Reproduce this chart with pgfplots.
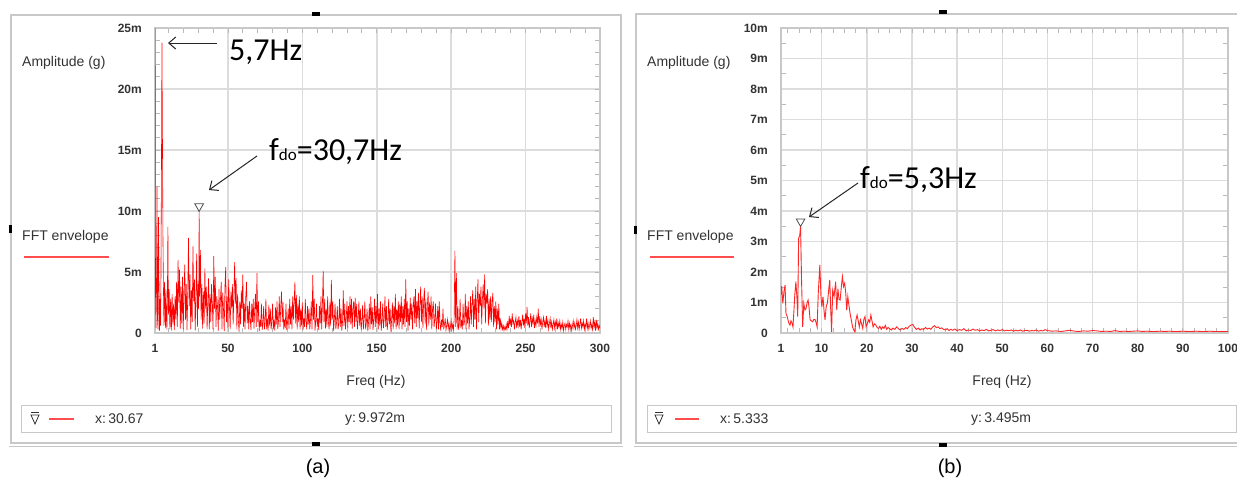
\documentclass[border=0pt]{standalone}
\usepackage{fontspec}
\setmainfont{Liberation Sans}
\newfontfamily\calib{Carlito}
\usepackage{pgfplots}
\usepackage{pgfplotstable}
\usetikzlibrary{arrows.meta}
\pgfplotsset{compat=1.18}

\definecolor{gridc}{HTML}{DCDCDC}
\definecolor{framec}{HTML}{C8C8C8}
\definecolor{txt}{HTML}{333333}
\definecolor{lred}{HTML}{FF4D4D}

% FFT envelope, panel (a): freq [Hz], amplitude [mg]
\pgfplotstableread{
f a
1.100 25.0
1.333 3.2
1.667 0.4
2.000 3.5
2.333 12.0
2.667 1.2
3.000 0.3
3.333 9.5
3.667 4.0
4.000 0.2
4.333 2.8
4.667 0.6
5.000 4.5
5.333 13.4
5.667 23.8
6.000 16.0
6.333 8.0
6.667 3.8
7.000 0.6
7.333 4.2
7.667 2.5
8.000 0.4
8.333 3.6
8.667 1.2
9.000 0.3
9.333 3.0
9.667 8.7
10.000 1.5
10.5 3.6
11 0.3
11.5 2.8
12 0.2
12.5 3.2
13 0.7
13.5 2.4
14 0.25
14.5 3.0
15 1.1
15.5 4.2
16 0.5
16.5 6.0
17 2.5
17.5 5.2
18 0.35
18.5 3.8
19 0.8
19.5 4.6
20 0.3
20.5 3.4
21 5.6
21.5 1.1
22 4.0
22.5 0.25
23 3.0
23.5 7.8
24 2.2
24.5 4.8
25 0.3
25.5 3.5
26 0.9
26.5 7.1
27 2.6
27.5 4.4
28 0.2
28.5 3.0
29 6.5
29.5 0.5
30 4.0
30.333 2.0
30.667 9.972
31 3.0
31.5 6.8
32 1.1
32.5 4.0
33 0.35
33.5 3.4
34 0.8
34.5 5.3
35 2.0
35.5 3.8
36 0.3
36.5 2.6
37 4.5
37.5 0.3
38 3.2
38.5 0.9
39 4.0
39.5 2.4
40 0.3
40.5 6.3
41 2.0
41.5 4.6
42 0.5
42.5 3.0
43 2.2
43.5 0.2
44 3.6
44.5 1.1
45 2.8
45.5 4.2
46 0.3
46.5 3.3
47 2.0
47.5 0.15
48 3.8
48.5 5.4
49 0.9
49.5 3.0
50 0.4
50.5 4.4
51 2.2
51.5 0.3
52 3.4
52.5 2.0
53 4.0
53.5 0.7
54 3.0
54.5 5.8
55 2.4
55.5 4.5
56 0.3
56.5 3.2
57 1.1
57.5 0.1
58 2.6
58.5 0.7
59 3.5
59.5 2.0
60 4.8
60.5 0.5
61 2.4
61.5 0.3
62 3.0
62.5 4.2
63 0.8
63.5 2.2
64 0.3
64.5 2.6
65 1.1
65.5 0.25
66 2.4
66.5 0.9
67 2.8
67.5 0.35
68 2.0
68.5 3.2
69 0.5
69.5 4.9
70 0.9
70.5 2.6
71 0.15
71.5 1.1
72 0.5
72.5 2.4
73 0.25
73.5 0.8
74 2.2
74.5 0.3
75 0.9
75.5 2.8
76 0.3
76.5 1.2
77 0.2
77.5 2.3
78 0.6
78.5 2.0
79 0.3
79.5 0.9
80 2.4
80.5 0.3
81 1.1
81.5 0.2
82 2.1
82.5 0.7
83 2.6
83.5 0.35
84 1.0
84.5 3.0
85 0.5
85.5 2.2
86 3.4
86.5 0.9
87 2.5
87.5 0.3
88 1.1
88.5 0.4
89 2.4
89.5 0.25
90 0.8
90.5 2.0
91 0.35
91.5 2.8
92 0.7
92.5 2.2
93 0.3
93.5 3.0
94 1.1
94.5 2.6
95 4.2
95.5 0.8
96 3.1
96.5 0.3
97 2.4
97.5 0.9
98 3.0
98.5 0.3
99 2.0
99.5 0.6
100 2.5
100.5 0.25
101 1.2
101.5 0.5
102 2.8
102.5 0.9
103 0.3
103.5 2.2
104 0.7
104.5 2.0
105 0.3
105.5 1.1
106 2.6
106.5 0.3
107 4.75
107.5 1.1
108 2.8
108.5 0.2
109 0.9
109.5 2.4
110 0.5
110.5 1.2
111 0.25
111.5 2.2
112 0.8
112.5 3.0
113 0.3
113.5 2.4
114 5.1
114.5 0.9
115 2.8
115.5 0.35
116 2.0
116.5 0.5
117 3.0
117.5 0.9
118 0.3
118.5 2.5
119 0.6
119.5 4.35
120 1.1
120.5 2.6
121 0.15
121.5 1.1
122 2.4
122.5 0.3
123 0.9
123.5 2.2
124 0.3
124.5 0.8
125 2.8
125.5 0.5
126 2.0
126.5 0.2
127 0.9
127.5 3.5
128 0.6
128.5 2.4
129 0.3
129.5 1.2
130 2.6
130.5 0.4
131 2.2
131.5 0.9
132 3.0
132.5 0.7
133 2.8
133.5 0.35
134 2.0
134.5 2.6
135 0.5
135.5 2.9
136 0.9
136.5 2.4
137 0.3
137.5 1.1
138 2.6
138.5 0.6
139 2.0
139.5 0.25
140 0.9
140.5 2.3
141 0.3
141.5 1.1
142 2.6
142.5 0.3
143 0.8
143.5 2.0
144 0.15
144.5 0.9
145 2.4
145.5 0.3
146 3.0
146.5 0.7
147 2.1
147.5 0.25
148 1.1
148.5 2.8
149 0.5
149.5 2.2
150 0.8
150.5 3.2
151 0.3
151.5 2.0
152 0.6
152.5 2.6
153 0.2
153.5 1.0
154 2.4
154.5 0.4
155 1.2
155.5 3.0
156 0.5
156.5 2.2
157 0.25
157.5 0.9
158 2.8
158.5 0.7
159 2.0
159.5 0.1
160 1.1
160.5 2.5
161 0.3
161.5 2.2
162 0.8
162.5 3.2
163 0.3
163.5 2.0
164 0.6
164.5 2.6
165 0.3
165.5 2.4
166 0.9
166.5 3.0
167 0.3
167.5 2.2
168 0.7
168.5 2.8
169 0.5
169.5 4.4
170 0.9
170.5 2.6
171 0.2
171.5 2.0
172 0.6
172.5 2.9
173 1.1
173.5 2.4
174 0.3
174.5 2.2
175 3.0
175.5 0.8
176 3.6
176.5 0.5
177 2.6
177.5 1.2
178 3.3
178.5 0.35
179 2.4
179.5 3.8
180 0.9
180.5 3.0
181 0.4
181.5 2.6
182 3.7
182.5 0.7
183 2.8
183.5 0.25
184 2.2
184.5 3.4
185 0.6
185.5 2.5
186 1.1
186.5 3.0
187 0.3
187.5 2.0
188 2.6
188.5 0.5
189 1.1
189.5 2.4
190 0.3
190.5 0.9
191 2.2
191.5 0.3
192 2.6
192.5 0.8
193 0.2
193.5 1.1
194 0.5
194.5 2.0
195 0.3
195.5 0.7
196 1.2
196.5 0.25
197 0.6
197.5 1.1
198 0.35
198.5 0.8
199 0.15
199.5 0.5
200 1.0
200.5 0.3
201 0.7
201.5 0.25
202 1.1
202.5 6.75
203 0.5
203.5 4.9
204 0.3
204.5 2.2
205 0.25
205.5 0.8
206 2.8
206.5 0.4
207 1.1
207.5 0.3
208 2.4
208.5 0.6
209 1.0
209.5 3.2
210 0.3
210.5 2.2
211 0.8
211.5 2.6
212 0.3
212.5 1.2
213 3.0
213.5 0.7
214 2.4
214.5 3.5
215 0.5
215.5 2.8
216 1.1
216.5 3.8
217 0.3
217.5 2.6
218 4.4
218.5 0.9
219 3.2
219.5 2.2
220 3.8
220.5 0.7
221 2.8
221.5 4.0
222 2.0
222.5 4.8
223 0.8
223.5 3.2
224 2.4
224.5 3.6
225 0.6
225.5 2.8
226 1.1
226.5 3.0
227 0.9
227.5 2.5
228 3.3
228.5 0.5
229 2.2
229.5 0.9
230 2.6
230.5 0.3
231 2.0
231.5 0.7
232 2.4
232.5 0.3
233 1.2
233.5 0.4
234 0.8
234.5 0.3
235 0.6
235.5 0.2
236 0.5
236.5 0.3
237 0.7
237.5 0.2
238 1.0
238.5 0.4
239 1.4
239.5 0.6
240 1.2
240.5 0.5
241 1.6
241.5 0.8
242 1.0
242.5 0.3
243 0.9
243.5 1.3
244 0.4
244.5 1.0
245 0.6
245.5 1.4
246 0.5
246.5 1.1
247 0.3
247.5 0.9
248 1.5
248.5 0.6
249 1.2
249.5 0.4
250 1.6
250.5 0.8
251 2.15
251.5 0.6
252 1.3
252.5 0.4
253 1.0
253.5 1.6
254 0.5
254.5 1.2
255 0.8
255.5 1.5
256 0.4
256.5 1.0
257 0.6
257.5 1.3
258 0.8
258.5 2.0
259 0.5
259.5 1.4
260 0.7
260.5 1.1
261 0.3
261.5 0.9
262 1.3
262.5 0.5
263 1.0
263.5 0.4
264 1.4
264.5 0.6
265 1.0
265.5 0.3
266 0.8
266.5 1.2
267 0.4
267.5 0.9
268 0.3
268.5 0.7
269 1.1
269.5 0.4
270 0.9
270.5 0.5
271 1.2
271.5 0.3
272 0.8
272.5 0.5
273 1.0
273.5 0.3
274 0.7
274.5 0.4
275 0.9
275.5 0.2
276 0.6
276.5 0.8
277 0.3
277.5 0.7
278 0.5
278.5 1.0
279 0.3
279.5 0.8
280 0.4
280.5 0.7
281 0.2
281.5 0.6
282 1.0
282.5 0.4
283 0.8
283.5 0.3
284 0.6
284.5 1.1
285 0.4
285.5 0.9
286 0.3
286.5 0.7
287 1.2
287.5 0.4
288 0.8
288.5 0.5
289 1.0
289.5 0.3
290 0.7
290.5 0.5
291 1.2
291.5 0.4
292 0.8
292.5 0.3
293 0.6
293.5 1.0
294 0.4
294.5 0.7
295 0.3
295.5 1.3
296 0.5
296.5 0.9
297 0.2
297.5 1.1
298 0.4
298.5 0.8
299 0.3
299.5 0.6
300 0.4
}\dataA

% FFT envelope, panel (b)
\pgfplotstableread{
f a
1.0 1.25
1.15 1.54
1.4 0.97
1.65 1.35
1.9 1.57
2.1 0.64
2.35 0.55
2.6 0.40
2.8 0.30
3.0 0.26
3.2 0.40
3.4 0.35
3.65 0.20
3.85 0.70
4.05 1.25
4.3 1.68
4.55 1.10
4.7 0.54
4.9 3.10
5.15 3.20
5.333 3.495
5.55 1.74
5.8 0.20
6.05 0.97
6.3 0.75
6.55 0.81
6.8 1.00
7.0 1.08
7.2 0.86
7.45 0.43
7.7 0.40
8.0 0.37
8.3 0.45
8.6 0.43
8.85 0.30
9.0 0.20
9.25 1.30
9.6 2.23
9.85 1.20
10.05 0.86
10.3 1.19
10.55 0.70
10.75 0.43
11.0 0.86
11.3 1.00
11.55 1.40
11.8 1.74
12.0 0.80
12.2 0.04
12.45 1.41
12.75 1.20
13.1 1.68
13.35 0.75
13.6 1.45
13.85 1.10
14.1 1.08
14.35 1.50
14.6 1.85
14.85 1.52
15.1 1.63
15.35 1.30
15.55 0.75
15.8 1.19
16.05 0.90
16.3 0.64
16.6 0.40
16.85 0.20
17.1 0.10
17.35 0.04
17.6 0.43
17.85 0.59
18.1 0.40
18.35 0.20
18.6 0.43
18.85 0.30
19.1 0.15
19.35 0.45
19.6 0.54
19.85 0.20
20.1 0.30
20.4 0.43
20.65 0.35
20.9 0.59
21.15 0.40
21.4 0.20
21.7 0.30
22.0 0.26
22.3 0.18
22.6 0.15
22.9 0.22
23.2 0.12
23.5 0.20
23.8 0.15
24.1 0.25
24.4 0.12
24.7 0.18
25.0 0.15
25.4 0.10
25.8 0.16
26.2 0.12
26.6 0.20
27.0 0.14
27.4 0.10
27.8 0.15
28.2 0.12
28.6 0.18
29.0 0.14
29.4 0.22
29.8 0.26
30.2 0.28
30.6 0.18
31.0 0.12
31.4 0.16
31.8 0.10
32.2 0.14
32.6 0.12
33.0 0.18
33.4 0.13
33.8 0.16
34.2 0.12
34.6 0.20
35.0 0.24
35.4 0.18
35.8 0.20
36.2 0.14
36.6 0.17
37.0 0.12
37.4 0.10
37.8 0.14
38.2 0.08
38.6 0.12
39.0 0.09
39.5 0.13
40 0.08
40.5 0.11
41 0.09
41.5 0.14
42 0.07
42.5 0.10
43 0.08
43.5 0.13
44 0.09
44.5 0.11
45 0.07
45.5 0.10
46 0.08
46.5 0.12
47 0.07
47.5 0.09
48 0.11
48.5 0.07
49 0.10
49.5 0.08
50 0.11
50.5 0.07
51 0.09
51.5 0.08
52 0.10
52.5 0.06
53 0.09
53.5 0.07
54 0.10
54.5 0.06
55 0.08
55.5 0.09
56 0.06
56.5 0.08
57 0.07
57.5 0.10
58 0.06
58.5 0.08
59 0.07
59.5 0.11
60 0.08
61 0.06
62 0.07
63 0.05
64 0.07
65 0.09
66 0.06
67 0.05
68 0.07
69 0.06
70 0.08
71 0.07
72 0.05
73 0.06
74 0.05
75 0.08
76 0.05
77 0.06
78 0.05
79 0.06
80 0.07
81 0.05
82 0.06
83 0.05
84 0.05
85 0.06
86 0.05
87 0.06
88 0.05
89 0.05
90 0.06
91 0.05
92 0.05
93 0.06
94 0.05
95 0.05
96 0.06
97 0.05
98 0.05
99 0.05
100 0.05
}\dataB

\pgfplotsset{fftaxis/.style={
  scale only axis, height=305pt, ymin=0,
  axis line style={framec, line width=1.2pt},
  grid=major, major grid style={gridc, line width=1.5pt},
  major tick length=0pt, minor tick length=5pt,
  minor tick style={gray!55, line width=0.8pt},
  tick pos=both, tick align=inside,
  ticklabel style={font=\fontsize{12}{14}\selectfont\bfseries, text=txt, inner sep=0pt},
  xticklabel style={anchor=center, yshift=-15pt},
  yticklabel style={anchor=east, xshift=-13pt},
  /pgf/number format/assume math mode=true,
}}

\begin{document}
\begin{tikzpicture}[x=1pt,y=-1pt]
\path[use as bounding box, fill=white] (0,0) rectangle (1237,483);

% window frames
\draw[framec, line width=1.5pt] (11,15) rectangle (621,443);
\draw[gray!45, line width=1pt] (9,446) -- (623,446);
\draw[framec, line width=1.5pt] (1240,14) -- (636,14) -- (636,443) -- (1240,443);
\draw[gray!45, line width=1pt] (634,446) -- (1240,446);
\fill[black] (312,12) rectangle (320,16);
\fill[black] (9,225) rectangle (12,233);
\fill[black] (312,442) rectangle (320,446);
\fill[black] (939,10) rectangle (947,14);
\fill[black] (634,226) rectangle (637,234);
\fill[black] (939,443) rectangle (947,447);

% status bars
\draw[framec, line width=1pt] (21,405) rectangle (611,432);
\draw[framec, line width=1pt] (647,405) rectangle (1236,432);
\draw[black!80, line width=0.8pt] (31,412.5) -- (39,412.5);
\draw[black!80, line width=0.8pt] (31,415) -- (39,415) -- (35,424) -- cycle;
\draw[lred, line width=1.5pt] (49,419) -- (74,419);
\node[anchor=west, inner sep=0, font=\fontsize{14}{16}\selectfont, text=txt] at (95,419) {x:\,30.67};
\node[anchor=west, inner sep=0, font=\fontsize{14}{16}\selectfont, text=txt] at (345,419) {y:\,9.972m};
\draw[black!80, line width=0.8pt] (655,412.5) -- (663,412.5);
\draw[black!80, line width=0.8pt] (655,415) -- (663,415) -- (659,424) -- cycle;
\draw[lred, line width=1.5pt] (675,419) -- (699,419);
\node[anchor=west, inner sep=0, font=\fontsize{14}{16}\selectfont, text=txt] at (720,419) {x:\,5.333};
\node[anchor=west, inner sep=0, font=\fontsize{14}{16}\selectfont, text=txt] at (971,419) {y:\,3.495m};

% side labels
\foreach \xx in {22,647} {
  \node[anchor=west, inner sep=0, font=\fontsize{14}{16}\selectfont, text=txt] at (\xx,63) {Amplitude (g)};
  \node[anchor=west, inner sep=0, font=\fontsize{14}{16}\selectfont, text=txt] at (\xx,237) {FFT envelope};
}
\draw[lred, line width=2pt] (24,257) -- (109,257);
\draw[lred, line width=2pt] (650,257) -- (734,257);
\node[font=\fontsize{14}{16}\selectfont, text=txt] at (376,382) {Freq (Hz)};
\node[font=\fontsize{14}{16}\selectfont, text=txt] at (1002,382) {Freq (Hz)};

% (a)
\begin{axis}[fftaxis, at={(155pt,-333pt)}, anchor=south west,
  width=445pt, xmin=1, xmax=300, ymax=25,
  xtick={1,50,100,150,200,250,300},
  ytick={0,5,10,15,20,25}, yticklabels={0,5m,10m,15m,20m,25m},
  minor xtick={10,20,...,290}, minor ytick={1,2,...,24}]
\addplot[red, line width=0.6pt] table[x=f, y=a] {\dataA};
\addplot[only marks, mark=triangle, mark size=5pt,
  mark options={yshift=5pt, rotate=180, draw=black!70, fill=white, line width=0.8pt}]
  coordinates {(30.667,9.972)};
\end{axis}

% (b)
\begin{axis}[fftaxis, at={(781pt,-333pt)}, anchor=south west,
  width=447pt, xmin=1, xmax=100, ymax=10,
  xtick={1,10,20,30,40,50,60,70,80,90,100},
  ytick={0,1,...,10}, yticklabels={0,1m,2m,3m,4m,5m,6m,7m,8m,9m,10m},
  minor xtick={2.5,5,...,97.5}, minor ytick={0.5,1.5,...,9.5}]
\addplot[red!85!white, line width=0.9pt] table[x=f, y=a] {\dataB};
\addplot[only marks, mark=triangle, mark size=5pt,
  mark options={yshift=5pt, rotate=180, draw=black!70, fill=white, line width=0.8pt}]
  coordinates {(5.333,3.495)};
\end{axis}

% annotations
\draw[black!85, line width=1pt, -{Straight Barb[length=7pt,width=12pt]}] (217,43) -- (168,43);
\node[anchor=west, inner sep=0, font=\calib\fontsize{32}{36}\selectfont] at (229,52) {5,7Hz};
\draw[black!85, line width=1pt, -{Straight Barb[length=7pt,width=12pt]}] (257,156) -- (209,190);
\node[anchor=west, inner sep=0, font=\calib\fontsize{32}{36}\selectfont] at (269,152) {f{\fontsize{17}{18}\selectfont do}=30,7Hz};
\draw[black!85, line width=1pt, -{Straight Barb[length=7pt,width=12pt]}] (858,183) -- (809,217);
\node[anchor=west, inner sep=0, font=\calib\fontsize{32}{36}\selectfont] at (860,180) {f{\fontsize{17}{18}\selectfont do}=5,3Hz};

% captions
\node[font=\fontsize{20}{24}\selectfont] at (318,468) {(a)};
\node[font=\fontsize{20}{24}\selectfont] at (950,468) {(b)};
\end{tikzpicture}
\end{document}
